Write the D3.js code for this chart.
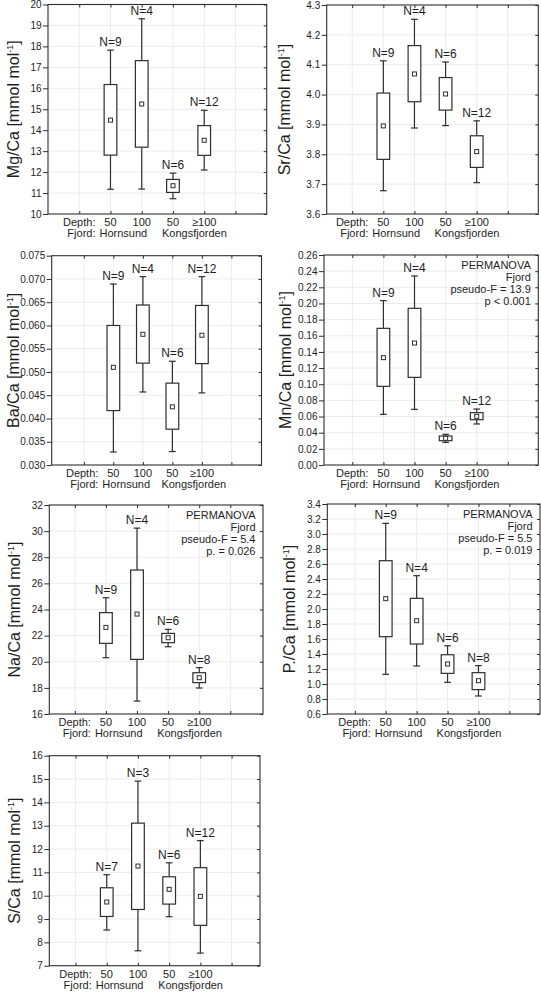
<!DOCTYPE html>
<html><head><meta charset="utf-8">
<script src="https://cdn.jsdelivr.net/npm/d3@7"></script>
<style>
body{margin:0;background:#fff}
svg{display:block}
text{font-family:"Liberation Sans",Arial,Helvetica,sans-serif;fill:#1e1e1e}
</style>
</head><body>
<svg id="c" width="541" height="992"></svg>
<script>
// ---------- DATA ----------
const categories = ["Hornsund 50", "Hornsund 100", "Kongsfjorden 50", "Kongsfjorden ≥100"];
const depthLabels = ["50", "100", "50", "≥100"];
const fjordLabels = ["Hornsund", "Kongsfjorden"];
// each row: [lower whisker, box bottom, mean, box top, upper whisker]
const mgCa = [[11.18,12.81,14.48,16.18,17.82],[11.19,13.19,15.25,17.32,19.32],[10.73,11.03,11.35,11.65,11.95],[12.10,12.80,13.52,14.22,14.95]];
const mgCaN = [9,4,6,12];
const mgCaTicks = [10,11,12,13,14,15,16,17,18,19,20];

const srCa = [[3.678,3.783,3.895,4.005,4.113],[3.888,3.976,4.069,4.164,4.252],[3.896,3.948,4.002,4.057,4.109],[3.705,3.756,3.809,3.862,3.912]];
const srCaN = [9,4,6,12];
const srCaTicks = [3.6,3.7,3.8,3.9,4.0,4.1,4.2,4.3];

const baCa = [[0.0328,0.0417,0.0510,0.0600,0.0689],[0.0457,0.0519,0.0581,0.0644,0.0705],[0.0329,0.0377,0.0425,0.0476,0.0523],[0.0455,0.0518,0.0579,0.0643,0.0705]];
const baCaN = [9,4,6,12];
const baCaTicks = [0.030,0.035,0.040,0.045,0.050,0.055,0.060,0.065,0.070,0.075];

const mnCa = [[0.0627,0.0974,0.1329,0.1692,0.2035],[0.0689,0.1085,0.151,0.194,0.234],[0.028,0.0301,0.033,0.0359,0.038],[0.0508,0.0561,0.0603,0.0648,0.0693]];
const mnCaN = [9,4,6,12];
const mnCaTicks = [0,0.02,0.04,0.06,0.08,0.10,0.12,0.14,0.16,0.18,0.20,0.22,0.24,0.26];
const mnCaStats = ["PERMANOVA","Fjord","pseudo-F = 13.9","p < 0.001"];

const naCa = [[20.31,21.41,22.63,23.76,24.90],[16.99,20.18,23.65,27.02,30.23],[21.15,21.46,21.84,22.17,22.48],[17.99,18.40,18.78,19.16,19.55]];
const naCaN = [9,4,6,8];
const naCaTicks = [16,18,20,22,24,26,28,30,32];
const naCaStats = ["PERMANOVA","Fjord","pseudo-F = 5.4","p. = 0.026"];

const pCa = [[1.129,1.631,2.138,2.644,3.142],[1.24,1.533,1.844,2.142,2.444],[1.022,1.142,1.267,1.39,1.51],[0.84,0.925,1.044,1.151,1.245]];
const pCaN = [9,4,6,8];
const pCaTicks = [0.6,0.8,1.0,1.2,1.4,1.6,1.8,2.0,2.2,2.4,2.6,2.8,3.0,3.2,3.4];
const pCaStats = ["PERMANOVA","Fjord","pseudo-F = 5.5","p. = 0.019"];

const sCa = [[8.53,9.11,9.73,10.34,10.90],[7.64,9.41,11.27,13.11,14.91],[9.10,9.64,10.27,10.81,11.41],[7.54,8.73,9.97,11.20,12.36]];
const sCaN = [7,3,6,12];
const sCaTicks = [7,8,9,10,11,12,13,14,15,16];

// ---------- LAYOUT ----------
const panels = [
  {title:"Mg/Ca", stats:mgCa, n:mgCaN, ticks:mgCaTicks, fmt:"d",   frame:[48,4.5,266.7,214],      xd:[0,7],     tx:13.5},
  {title:"Sr/Ca", stats:srCa, n:srCaN, ticks:srCaTicks, fmt:".1f", frame:[326.7,5,538.3,214],   xd:[0.18,6.98], tx:284},
  {title:"Ba/Ca", stats:baCa, n:baCaN, ticks:baCaTicks, fmt:".3f", frame:[51.7,255.7,261.5,465], xd:[-0.09,7.02], tx:13},
  {title:"Mn/Ca", stats:mnCa, n:mnCaN, ticks:mnCaTicks, fmt:".2f", frame:[324,255,538.3,465],   xd:[0.09,6.98], tx:285, perm:mnCaStats},
  {title:"Na/Ca", stats:naCa, n:naCaN, ticks:naCaTicks, fmt:"d",   frame:[49.3,505,263,714],     xd:[0.18,7.05], tx:14, perm:naCaStats},
  {title:"P./Ca", stats:pCa,  n:pCaN,  ticks:pCaTicks,  fmt:".1f", frame:[327.3,504,540,714],    xd:[0.11,6.99], tx:289, perm:pCaStats},
  {title:"S/Ca",  stats:sCa,  n:sCaN,  ticks:sCaTicks,  fmt:"d",   frame:[49.3,755.7,260,965.7], xd:[0.16,6.91], tx:14}
];
const gridPos = [1,2,3,4,5,6];
const catPos = [2,3,4,5];

const svg = d3.select("#c");
const dark = "#2e2e2e";

panels.forEach(p => {
  const [L,T,R,B] = p.frame;
  const y = d3.scaleLinear().domain(d3.extent(p.ticks)).range([B,T]);
  const x = d3.scaleLinear().domain(p.xd).range([L,R]);
  const g = svg.append("g");

  // gridlines
  g.selectAll(".hg").data(p.ticks.slice(1,-1)).join("line")
    .attr("x1",L).attr("x2",R).attr("y1",d=>y(d)).attr("y2",d=>y(d))
    .attr("stroke","#ececec").attr("stroke-width",1);
  g.selectAll(".vg").data(gridPos).join("line")
    .attr("x1",d=>x(d)).attr("x2",d=>x(d)).attr("y1",T).attr("y2",B)
    .attr("stroke","#ececec").attr("stroke-width",1);

  // axes
  const fmt = d3.format(p.fmt);
  const left = g.append("g").attr("transform",`translate(${L},0)`)
    .call(d3.axisLeft(y).tickValues(p.ticks).tickSize(5).tickPadding(1.5).tickFormat(fmt));
  left.select(".domain").remove();
  left.selectAll("line").attr("stroke",dark);
  left.selectAll("text").attr("font-size","10px").attr("fill","#1e1e1e")
    .style("font-family",'"Liberation Sans",Arial,sans-serif');

  const right = g.append("g").attr("transform",`translate(${R},0)`)
    .call(d3.axisRight(y).tickValues(p.ticks).tickSize(-3).tickFormat(""));
  right.select(".domain").remove(); right.selectAll("line").attr("stroke",dark);

  const top = g.append("g").attr("transform",`translate(0,${T})`)
    .call(d3.axisTop(x).tickValues(gridPos).tickSize(-3).tickFormat(""));
  top.select(".domain").remove(); top.selectAll("line").attr("stroke",dark);

  const bot = g.append("g").attr("transform",`translate(0,${B})`)
    .call(d3.axisBottom(x).tickValues(gridPos).tickSize(-3).tickFormat(""));
  bot.select(".domain").remove(); bot.selectAll("line").attr("stroke",dark);

  // frame
  g.append("rect").attr("x",L).attr("y",T).attr("width",R-L).attr("height",B-T)
    .attr("fill","none").attr("stroke",dark).attr("stroke-width",1.1);

  // boxes
  const bw = 12.7, cw = 6.7, mk = 4;
  p.stats.forEach((s,i) => {
    const cx = x(catPos[i]);
    const [lo,q1,mean,q3,hi] = s;
    const b = g.append("g").attr("stroke",dark).attr("stroke-width",1.2);
    b.append("line").attr("x1",cx).attr("x2",cx).attr("y1",y(hi)).attr("y2",y(q3));
    b.append("line").attr("x1",cx).attr("x2",cx).attr("y1",y(q1)).attr("y2",y(lo));
    b.append("line").attr("x1",cx-cw/2).attr("x2",cx+cw/2).attr("y1",y(hi)).attr("y2",y(hi));
    b.append("line").attr("x1",cx-cw/2).attr("x2",cx+cw/2).attr("y1",y(lo)).attr("y2",y(lo));
    b.append("rect").attr("x",cx-bw/2).attr("y",y(q3)).attr("width",bw).attr("height",y(q1)-y(q3))
      .attr("fill","#fff");
    b.append("rect").attr("x",cx-mk/2).attr("y",y(mean)-mk/2).attr("width",mk).attr("height",mk)
      .attr("fill","#fff").attr("stroke-width",1);
    g.append("text").attr("x",cx).attr("y",y(hi)-4).attr("text-anchor","middle")
      .attr("font-size","12px").text("N="+p.n[i]);
  });

  // category rows
  g.append("text").attr("x",x(2)-15).attr("y",B+12).attr("text-anchor","end").attr("font-size","11px").text("Depth:");
  g.append("text").attr("x",x(2)-15).attr("y",B+23).attr("text-anchor","end").attr("font-size","11px").text("Fjord:");
  depthLabels.forEach((d,i)=>{
    g.append("text").attr("x",x(catPos[i])).attr("y",B+12).attr("text-anchor","middle").attr("font-size","11px").text(d);
  });
  fjordLabels.forEach((d,i)=>{
    g.append("text").attr("x",x(catPos[i*2])-11).attr("y",B+23).attr("text-anchor","start").attr("font-size","11px").text(d);
  });

  // y title
  const cy = (T+B)/2;
  const t = g.append("text").attr("transform",`translate(${p.tx+5.5},${cy}) rotate(-90)`)
    .attr("text-anchor","middle").attr("font-size","16px");
  t.append("tspan").text(p.title+" [mmol mol");
  t.append("tspan").attr("font-size","9px").attr("dy","-6").text("-1");
  t.append("tspan").attr("dy","6").text("]");

  // PERMANOVA annotation
  if (p.perm) {
    p.perm.forEach((line,i)=>{
      g.append("text").attr("x",R-7.5).attr("y",T+13.5+i*12).attr("text-anchor","end")
        .attr("font-size","11px").text(line);
    });
  }
});
</script>
</body></html>
